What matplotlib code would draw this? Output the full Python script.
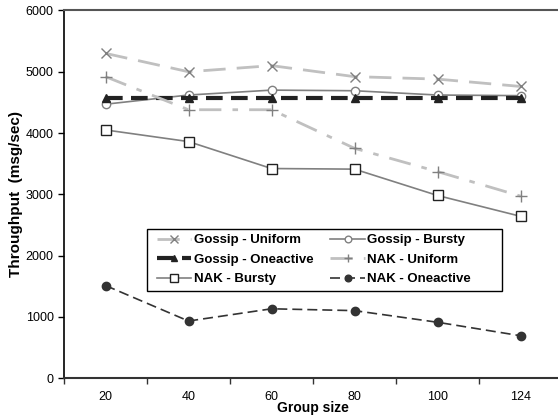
import matplotlib.pyplot as plt
from matplotlib.patches import Rectangle
import numpy as np

plt.rcParams['font.family'] = ['Liberation Sans', 'DejaVu Sans']

# Data
groups = ["20", "40", "60", "80", "100", "124"]
gossip_uniform = [5300, 5000, 5100, 4920, 4880, 4760]
gossip_bursty = [4470, 4620, 4700, 4690, 4620, 4610]
gossip_oneactive = [4570, 4570, 4570, 4570, 4570, 4570]
nak_uniform = [4920, 4380, 4380, 3750, 3370, 2970]
nak_bursty = [4050, 3860, 3420, 3410, 2980, 2640]
nak_oneactive = [1510, 930, 1130, 1100, 910, 690]

x = np.arange(len(groups))

fig = plt.figure(figsize=(5.58, 4.19), dpi=100)
ax = fig.add_axes([64 / 558, 1 - 378 / 419, 498 / 558, 367.5 / 419])

gu, = ax.plot(x, gossip_uniform, color="#c0c0c0", lw=2, dashes=(8, 4),
              marker="x", ms=7, mec="#808080", mew=1, label="Gossip - Uniform")
gb, = ax.plot(x, gossip_bursty, color="#808080", lw=1.2,
              marker="o", ms=6, mfc="white", mec="#808080", label="Gossip - Bursty")
go, = ax.plot(x, gossip_oneactive, color="#222222", lw=3, dashes=(4, 2),
              marker="^", ms=6, mfc="#222222", mec="#222222", label="Gossip - Oneactive")
nu, = ax.plot(x, nak_uniform, color="#c0c0c0", lw=2, dashes=(8, 4, 2, 4),
              marker="+", ms=8, mec="#808080", mew=1, label="NAK - Uniform")
nb, = ax.plot(x, nak_bursty, color="#808080", lw=1.2,
              marker="s", ms=6.5, mfc="white", mec="#222222", label="NAK - Bursty")
no, = ax.plot(x, nak_oneactive, color="#333333", lw=1.2, dashes=(6, 3),
              marker="o", ms=6, mfc="#333333", mec="#333333", label="NAK - Oneactive")

ax.set_xlim(-0.5, len(groups) - 0.5)
ax.set_ylim(0, 6000)
ax.set_yticks(np.arange(0, 6001, 1000))
ax.set_xticks(x)
ax.set_xticklabels(groups)
ax.set_xticks(np.arange(-0.5, len(groups) + 0.5, 1), minor=True)
ax.tick_params(axis="x", which="major", length=0, pad=9, labelsize=9)
ax.tick_params(axis="x", which="minor", length=4, width=1, color="#333333")
ax.tick_params(axis="y", length=4, width=1, labelsize=9)

ax.spines["right"].set_visible(False)
ax.spines["top"].set_color("#555555")
ax.spines["top"].set_linewidth(1.5)
ax.spines["bottom"].set_color("#333333")
ax.spines["bottom"].set_linewidth(1.5)
ax.spines["left"].set_linewidth(1.2)

ax.set_xlabel("Group size", fontweight="bold", fontsize=10, labelpad=-1)
ax.set_ylabel("Throughput  (msg/sec)", fontweight="bold", fontsize=11, labelpad=2)

# legend box (Excel style, wider than its entries)
ax.add_patch(Rectangle((0.1667, 0.2367), 0.7128, 0.1687, transform=ax.transAxes,
                       facecolor="white", edgecolor="black", lw=1, zorder=4))

# legend is row-major in the reference: reorder for matplotlib's column fill
handles = [gu, go, nb, gb, nu, no]
leg = ax.legend(handles=handles, labels=[h.get_label() for h in handles],
                ncol=2, loc="upper left", bbox_to_anchor=(0.177, 0.404),
                frameon=False, prop={"weight": "bold", "size": 9.5},
                handlelength=2.6, handletextpad=0.2, columnspacing=1.3,
                labelspacing=0.55, borderpad=0.35, markerscale=0.8,
                borderaxespad=0)
leg.set_zorder(5)

fig.savefig("out.png", dpi=100)
